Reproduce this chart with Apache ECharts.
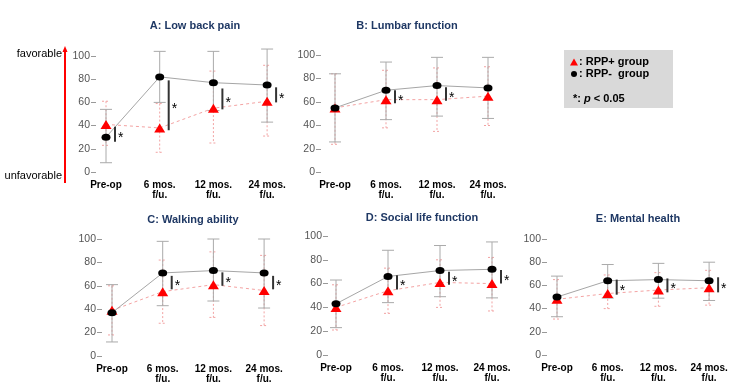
<!DOCTYPE html>
<html>
<head>
<meta charset="utf-8">
<script src="https://cdn.jsdelivr.net/npm/echarts@6/dist/echarts.min.js"></script>
<style>
  html, body { margin: 0; padding: 0; background: #fff; }
  #chart { width: 750px; height: 391px; }
</style>
</head>
<body>
<div id="chart"></div>
<script>
// x categories and y ticks
const categories = ['Pre-op', '6 mos.\nf/u.', '12 mos.\nf/u.', '24 mos.\nf/u.'];
const yTicks = [0, 20, 40, 60, 80, 100];
const panelTitles = ['A: Low back pain', 'B: Lumbar function', 'C: Walking ability', 'D: Social life function', 'E: Mental health'];

// RPP- group (black circles), one row per panel A..E
const negMean = [[30, 82, 77, 75], [55, 70, 74, 72], [37, 71, 73, 71], [43, 66, 71, 72], [50, 64, 65, 64]];
const negLow  = [[8, 60, 53, 43], [26, 45, 48, 46], [12, 43, 47, 41], [23, 44, 49, 48], [33, 49, 49, 47]];
const negHigh = [[54, 104, 104, 106], [84, 94, 98, 98], [61, 98, 100, 100], [63, 88, 92, 95], [68, 78, 79, 80]];

// RPP+ group (red triangles)
const posMean = [[41, 38, 55, 61], [55, 62, 62, 65], [39, 55, 61, 56], [40, 54, 61, 60], [48, 53, 56, 58]];
const posLow  = [[23, 17, 25, 31], [24, 38, 35, 40], [18, 28, 33, 26], [21, 35, 40, 37], [31, 40, 42, 43]];
const posHigh = [[61, 59, 87, 92], [84, 87, 89, 90], [60, 82, 89, 86], [59, 73, 80, 82], [65, 69, 71, 73]];

// significance brackets (p < 0.05): [low, high] or null
const sigBars = [
  [[26, 39], [36, 79], [54, 72], [60, 73]],
  [null, [59, 70], [61, 72.5], null],
  [null, [57, 68.5], [60, 71.5], [57, 68.5]],
  [null, [55, 67], [59, 70], [60, 71.5]],
  [null, [52, 65], [54, 66], [54, 67]]
];

// panel placement in pixels: y-axis x, pre-op x, category step, y of 100, y of 0
const layout = [
  { axis: 96,  x0: 106, dx: 53.7, top: 56,  bottom: 172 },
  { axis: 321, x0: 335, dx: 51,   top: 55,  bottom: 172.5 },
  { axis: 102, x0: 112, dx: 50.7, top: 239, bottom: 356 },
  { axis: 328, x0: 336, dx: 52,   top: 236, bottom: 355 },
  { axis: 547, x0: 557, dx: 50.7, top: 239, bottom: 355 }
];
const titleCenters = [190, 402, 188, 417, 633];
const titleY = [24, 24, 218, 216, 217];

const FONT = '"Liberation Sans", Arial, sans-serif';

function errorBarItem(color, half, dashed) {
  return function (params, api) {
    const x = api.value(0);
    const top = api.coord([x, api.value(2)]);
    const bot = api.coord([x, api.value(1)]);
    const style = { stroke: color, lineWidth: 1, lineDash: dashed ? [2, 2] : null, fill: null };
    return {
      type: 'group',
      children: [
        { type: 'line', shape: { x1: top[0], y1: top[1], x2: bot[0], y2: bot[1] }, style: style },
        { type: 'line', shape: { x1: top[0] - half, y1: top[1], x2: top[0] + half, y2: top[1] }, style: style },
        { type: 'line', shape: { x1: bot[0] - half, y1: bot[1], x2: bot[0] + half, y2: bot[1] }, style: style }
      ]
    };
  };
}

function sigItem(params, api) {
  const x = api.value(0);
  const hi = api.coord([x, api.value(2)]);
  const lo = api.coord([x, api.value(1)]);
  const bx = hi[0] + 9;
  return {
    type: 'group',
    children: [
      { type: 'line', shape: { x1: bx, y1: hi[1], x2: bx, y2: lo[1] }, style: { stroke: '#333', lineWidth: 2 } },
      {
        type: 'text',
        style: {
          x: bx + 3, y: (hi[1] + lo[1]) / 2 + 4, text: '*',
          fill: '#000', font: '14px ' + FONT, verticalAlign: 'middle'
        }
      }
    ]
  };
}

const grids = [], xAxes = [], yAxes = [], series = [], titles = [];

layout.forEach((L, p) => {
  const min = -(L.x0 - L.axis) / L.dx;
  const max = 3.35;
  grids.push({ left: L.axis, top: L.top, width: (max - min) * L.dx, height: L.bottom - L.top });
  xAxes.push({
    gridIndex: p, type: 'value', min: min, max: max,
    axisLine: { show: false, onZero: false }, axisTick: { show: false }, splitLine: { show: false },
    axisLabel: {
      customValues: [0, 1, 2, 3],
      formatter: v => categories[Math.round(v)],
      fontFamily: FONT, fontWeight: 'bold', fontSize: 10, color: '#000',
      lineHeight: 10, margin: 8
    }
  });
  yAxes.push({
    gridIndex: p, type: 'value', min: 0, max: 100,
    axisLine: { show: false, onZero: false }, splitLine: { show: false },
    axisTick: { show: true, length: 5, lineStyle: { color: '#999' }, customValues: yTicks },
    axisLabel: { customValues: yTicks, fontFamily: FONT, fontSize: 10.5, color: '#555', margin: 6 }
  });
  titles.push({
    text: panelTitles[p], left: titleCenters[p], top: titleY[p] - 9, textAlign: 'center',
    textStyle: { fontFamily: FONT, fontWeight: 'bold', fontSize: 11, color: '#1f3864' }
  });

  const idx = [0, 1, 2, 3];
  series.push({
    type: 'custom', xAxisIndex: p, yAxisIndex: p, z: 1,
    renderItem: errorBarItem('#f2a3a3', 4, true),
    encode: { x: 0, y: [1, 2] },
    data: idx.map(i => [i, posLow[p][i], posHigh[p][i]])
  });
  series.push({
    type: 'custom', xAxisIndex: p, yAxisIndex: p, z: 2,
    renderItem: errorBarItem('#aaaaaa', 6, false),
    encode: { x: 0, y: [1, 2] },
    data: idx.map(i => [i, negLow[p][i], negHigh[p][i]])
  });
  series.push({
    type: 'line', xAxisIndex: p, yAxisIndex: p, z: 3,
    symbol: 'triangle', symbolSize: [11, 9], clip: false,
    itemStyle: { color: '#ff0000' },
    lineStyle: { color: '#f4a3a3', width: 1, type: [3, 3] },
    data: idx.map(i => [i, posMean[p][i]])
  });
  series.push({
    type: 'line', xAxisIndex: p, yAxisIndex: p, z: 4,
    symbol: 'circle', symbolSize: [9, 7], clip: false,
    itemStyle: { color: '#000' },
    lineStyle: { color: '#a6a6a6', width: 1 },
    data: idx.map(i => [i, negMean[p][i]])
  });
  series.push({
    type: 'custom', xAxisIndex: p, yAxisIndex: p, z: 5,
    renderItem: sigItem,
    encode: { x: 0, y: [1, 2] },
    data: idx.filter(i => sigBars[p][i]).map(i => [i, sigBars[p][i][0], sigBars[p][i][1]])
  });
});

const chart = echarts.init(document.getElementById('chart'));
chart.setOption({
  animation: false,
  backgroundColor: '#fff',
  title: titles,
  grid: grids,
  xAxis: xAxes,
  yAxis: yAxes,
  series: series,
  graphic: [
    // favorable / unfavorable arrow
    { type: 'line', shape: { x1: 65, y1: 183, x2: 65, y2: 50 }, style: { stroke: '#ff0000', lineWidth: 2 } },
    { type: 'polygon', shape: { points: [[65, 46], [62.5, 52], [67.5, 52]] }, style: { fill: '#ff0000' } },
    { type: 'text', x: 62, y: 54, style: { text: 'favorable', font: '11px ' + FONT, fill: '#000', align: 'right', verticalAlign: 'middle' } },
    { type: 'text', x: 62, y: 176, style: { text: 'unfavorable', font: '11px ' + FONT, fill: '#000', align: 'right', verticalAlign: 'middle' } },
    // legend box
    { type: 'rect', shape: { x: 564, y: 50, width: 109, height: 58 }, style: { fill: '#d9d9d9' } },
    { type: 'polygon', shape: { points: [[574, 58.5], [570, 65.5], [578, 65.5]] }, style: { fill: '#ff0000' } },
    { type: 'text', x: 579, y: 62, style: { text: ': RPP+ group', font: 'bold 11px ' + FONT, fill: '#000', verticalAlign: 'middle' } },
    { type: 'circle', shape: { cx: 574, cy: 74, r: 3 }, style: { fill: '#000' } },
    { type: 'text', x: 579, y: 74, style: { text: ': RPP-  group', font: 'bold 11px ' + FONT, fill: '#000', verticalAlign: 'middle' } },
    {
      type: 'text', x: 573, y: 99,
      style: {
        text: '{a|*: }{p|p}{a| < 0.05}', verticalAlign: 'middle',
        rich: {
          a: { fontFamily: FONT, fontWeight: 'bold', fontSize: 11, fill: '#000' },
          p: { fontFamily: FONT, fontWeight: 'bold', fontStyle: 'italic', fontSize: 11, fill: '#000' }
        }
      }
    }
  ]
});
</script>
</body>
</html>
